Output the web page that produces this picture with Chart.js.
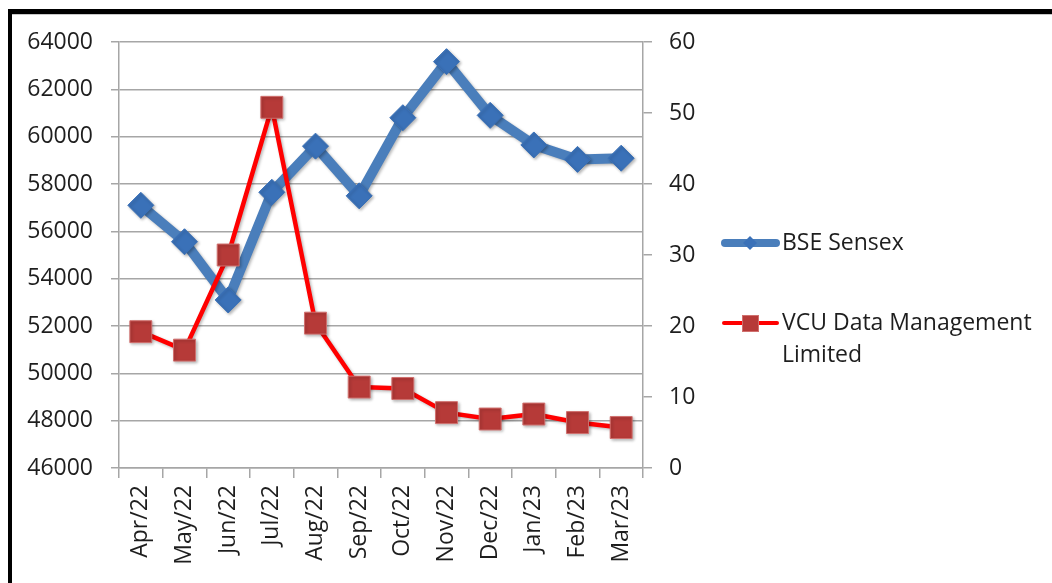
<!DOCTYPE html>
<html><head><meta charset="utf-8">
<script src="https://cdn.jsdelivr.net/npm/chart.js@4/dist/chart.umd.min.js"></script>
<style>html,body{margin:0;padding:0;background:#fff;} #wrap{position:relative;width:1052px;height:583px;}</style>
</head><body><div id="wrap"><canvas id="c" width="1052" height="583"></canvas></div>
<script>
const categories = ['Apr/22','May/22','Jun/22','Jul/22','Aug/22','Sep/22','Oct/22','Nov/22','Dec/22','Jan/23','Feb/23','Mar/23'];
const bseSensex = [57100, 55560, 53100, 57650, 59600, 57500, 60800, 63170, 60900, 59650, 59040, 59090];
const vcuPrice = [19.2, 16.6, 30.0, 50.8, 20.4, 11.4, 11.2, 7.8, 6.9, 7.6, 6.4, 5.7];
const seriesNames = ['BSE Sensex', 'VCU Data Management Limited'];
const leftAxisRange = [46000, 64000, 2000];
const rightAxisRange = [0, 60, 10];

const FONT = {family: "'Open Sans', sans-serif", size: 23};
const TXT = '#1e1e1e';
const GRID = '#a6a6a6';

const framePlugin = {
  id: 'frame',
  beforeDraw(chart) {
    const ctx = chart.ctx;
    ctx.save();
    ctx.fillStyle = '#fff';
    ctx.fillRect(0, 0, chart.width, chart.height);
    ctx.fillStyle = '#000';
    ctx.fillRect(8, 9, chart.width - 8, 5);
    ctx.fillRect(8, 9, 4, chart.height - 9);
    ctx.fillStyle = '#c8c8c8';
    ctx.fillRect(12, 14, chart.width - 12, 1);
    ctx.restore();
  }
};

const shadowPlugin = {
  id: 'shadow',
  beforeDatasetDraw(chart) {
    const ctx = chart.ctx;
    ctx.save();
    ctx.shadowColor = 'rgba(0,0,0,0.28)';
    ctx.shadowBlur = 3;
    ctx.shadowOffsetX = 1.5;
    ctx.shadowOffsetY = 1.5;
  },
  afterDatasetDraw(chart) { chart.ctx.restore(); }
};

function wrapText(ctx, text, maxW) {
  const words = text.split(' ');
  const lines = [];
  let cur = '';
  for (const w of words) {
    const t = cur ? cur + ' ' + w : w;
    if (ctx.measureText(t).width > maxW && cur) { lines.push(cur); cur = w; }
    else cur = t;
  }
  if (cur) lines.push(cur);
  return lines;
}

const legendPlugin = {
  id: 'customLegend',
  afterDraw(chart) {
    const ctx = chart.ctx;
    ctx.save();
    ctx.font = FONT.size + "px " + FONT.family;
    ctx.textBaseline = 'middle';
    ctx.textAlign = 'left';
    const entries = [{y: 243}, {y: 323}];
    chart.data.datasets.forEach((ds, i) => {
      const y = entries[i].y;
      ctx.save();
      ctx.strokeStyle = ds.borderColor;
      ctx.lineCap = 'round';
      if (i === 0) {
        ctx.lineWidth = 8;
        ctx.beginPath(); ctx.moveTo(725, y); ctx.lineTo(776, y); ctx.stroke();
        ctx.fillStyle = ds.pointBackgroundColor;
        ctx.beginPath();
        ctx.moveTo(750, y - 7); ctx.lineTo(757, y); ctx.lineTo(750, y + 7); ctx.lineTo(743, y);
        ctx.closePath(); ctx.fill();
      } else {
        ctx.lineWidth = 4;
        ctx.beginPath(); ctx.moveTo(724, y); ctx.lineTo(777, y); ctx.stroke();
        ctx.fillStyle = ds.pointBackgroundColor;
        ctx.fillRect(742, y - 8, 17, 17);
        ctx.strokeStyle = ds.pointBorderColor; ctx.lineWidth = 1;
        ctx.strokeRect(742.5, y - 7.5, 16, 16);
      }
      ctx.restore();
      ctx.fillStyle = TXT;
      const lines = wrapText(ctx, ds.label, 262);
      lines.forEach((ln, k) => ctx.fillText(ln, 782, y + k * 32));
    });
    ctx.restore();
  }
};

new Chart(document.getElementById('c'), {
  type: 'line',
  data: {
    labels: categories,
    datasets: [
      {
        label: seriesNames[0], data: bseSensex, yAxisID: 'y', order: 2,
        borderColor: '#4a7ebb', borderWidth: 10, borderJoinStyle: 'round', borderCapStyle: 'round',
        pointStyle: 'rectRot', pointRadius: 13, pointHoverRadius: 13,
        pointBackgroundColor: '#3a71b8', pointBorderColor: '#3a71b8', pointBorderWidth: 1,
        tension: 0, fill: false
      },
      {
        label: seriesNames[1], data: vcuPrice, yAxisID: 'y1', order: 1,
        borderColor: '#ff0000', borderWidth: 4.5, borderJoinStyle: 'round',
        pointStyle: 'rect', pointRadius: 15.5, pointHoverRadius: 15.5,
        pointBackgroundColor: '#b63a38', pointBorderColor: '#d0706e', pointBorderWidth: 1,
        tension: 0, fill: false
      }
    ]
  },
  options: {
    responsive: false, animation: false, devicePixelRatio: 1,
    layout: {padding: {top: 42, left: 0, right: 0, bottom: 0}},
    plugins: {legend: {display: false}, tooltip: {enabled: false}},
    scales: {
      x: {
        type: 'category', offset: true,
        grid: {display: true, drawOnChartArea: false, drawTicks: true, tickLength: 10, offset: true, color: GRID, lineWidth: 1.5},
        border: {display: true, color: GRID, width: 1.5},
        ticks: {minRotation: 90, maxRotation: 90, autoSkip: false, padding: 7, font: FONT, color: TXT},
        afterFit(s) { s.height = 115; }
      },
      y: {
        position: 'left', min: leftAxisRange[0], max: leftAxisRange[1],
        grid: {color: GRID, lineWidth: 1.5, tickLength: 8},
        border: {display: true, color: GRID, width: 1.5},
        ticks: {stepSize: leftAxisRange[2], padding: 18, font: FONT, color: TXT, callback: v => String(v)},
        afterFit(s) { s.width = 119; }
      },
      y1: {
        position: 'right', min: rightAxisRange[0], max: rightAxisRange[1],
        grid: {drawOnChartArea: false, color: GRID, lineWidth: 1.5, tickLength: 9},
        border: {display: true, color: GRID, width: 1.5},
        ticks: {stepSize: rightAxisRange[2], padding: 17, font: FONT, color: TXT, callback: v => String(v)},
        afterFit(s) { s.width = 409; }
      }
    }
  },
  plugins: [framePlugin, shadowPlugin, legendPlugin]
});
</script>
</body></html>
